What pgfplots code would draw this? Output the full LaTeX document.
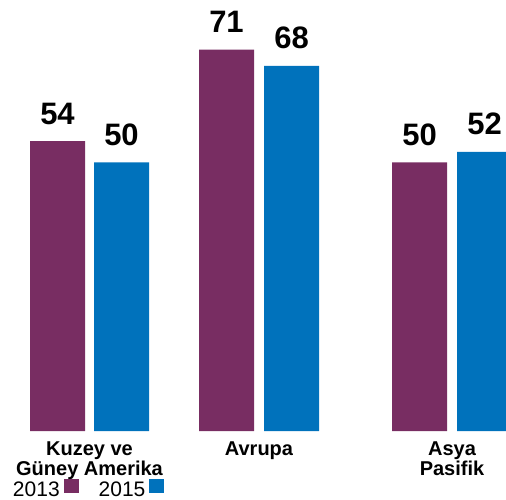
\documentclass[border=0pt]{standalone}
\usepackage{fontspec}
\setmainfont{Liberation Sans}
\usepackage{pgfplots}
\pgfplotsset{compat=1.18}

\definecolor{mor}{HTML}{782D62}
\definecolor{mavi}{HTML}{0072BC}

\begin{document}
\begin{tikzpicture}
\begin{axis}[
    scale only axis,
    width=506bp, height=431bp,
    xmin=0, xmax=506,
    ymin=0, ymax=80.26,
    ybar, bar shift=0pt, bar width=55,
    hide y axis,
    axis x line*=bottom,
    x axis line style={draw=none},
    major tick length=0pt,
    xtick={89.5,259,452},
    xticklabels={{Kuzey ve\\Güney Amerika},{Avrupa},{Asya\\Pasifik}},
    xticklabel style={font=\bfseries\fontsize{20bp}{20bp}\selectfont,
        align=center, anchor=north, inner sep=0pt, yshift=-11bp},
    /pgf/number format/assume math mode=true,
    nodes near coords,
    every node near coord/.append style={font=\bfseries\fontsize{31bp}{31bp}\selectfont,
        anchor=base, inner sep=0pt, yshift=17bp},
    legend columns=2,
    legend plot pos=right,
    legend image code/.code={\fill[#1] (0bp,-3bp) rectangle (15bp,11bp);},
    legend style={draw=none, fill=none, inner sep=0pt, outer sep=0pt,
        at={(axis cs:13,0)}, anchor=north west, yshift=-48bp,
        font=\fontsize{21bp}{21bp}\selectfont,
        nodes={inner sep=0pt},
        /tikz/every odd column/.append style={column sep=4bp},
        /tikz/every even column/.append style={column sep=20bp}},
]
\addplot[fill=mor, draw=none] coordinates {(57.5,54) (226.5,71) (419.5,50)};
\addlegendentry{2013}
\addplot[fill=mavi, draw=none] coordinates {(121.5,50) (291.5,68) (484.5,52)};
\addlegendentry{2015}
\end{axis}
\pgfresetboundingbox
\path (current axis.south west) ++(0,-69bp) rectangle (current axis.north east);
\end{tikzpicture}
\end{document}
